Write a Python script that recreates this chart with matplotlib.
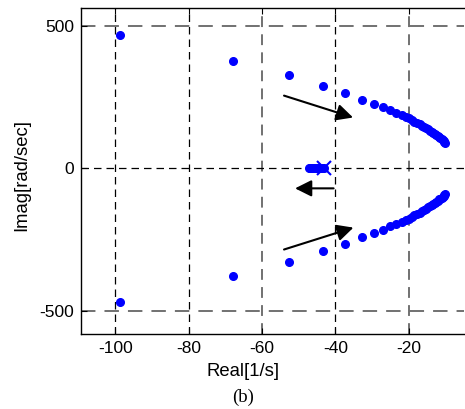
import matplotlib
matplotlib.use("Agg")
import matplotlib.pyplot as plt

plt.rcParams['axes.unicode_minus'] = False

# Upper branch of root locus (real, imag)
upper_re = [-98.6, -67.9, -52.6, -43.4, -37.3, -32.8, -29.6, -27.1, -25.1, -23.5, -21.9,
            -20.9, -20.0, -19.2, -18.5, -17.8, -17.1, -16.5, -15.9, -15.3, -14.8, -14.3,
            -13.8, -13.3, -12.9, -12.5, -12.1, -11.7, -11.4, -11.1, -10.8, -10.5, -10.3,
            -10.1]
upper_im = [470, 379, 328, 291, 266, 242, 227, 216, 204, 194, 187,
            181, 176, 170, 165, 160, 155, 150, 146, 141, 137, 133,
            129, 125, 121, 117, 113, 109, 106, 103, 99, 96, 93,
            90]
# Real-axis cluster
axis_re = [-47.2, -46.8, -46.4, -46.0, -45.6, -45.2, -44.8, -44.4, -44.0, -43.6, -43.2]
axis_im = [0] * len(axis_re)
# Open-loop pole marker
pole_re = [-43.0]
pole_im = [0]

xticks = [-100, -80, -60, -40, -20]
yticks = [-500, 0, 500]
xlim = (-109.3, -4.9)
ylim = (-582, 564)

# arrows: (start, end)
arrows = [((-54.0, 256), (-35.2, 179)),
          ((-40.5, -70), (-51.0, -70)),
          ((-54.0, -285), (-35.1, -208))]

fig = plt.figure(figsize=(4.65, 4.09), dpi=100)
ax = fig.add_axes([81/465, 1-334/409, (464.3-81)/465, (334-8)/409])

# grid lines
vcol = {-100: 'k', -80: 'k', -60: '#666666', -40: 'k', -20: '#666666'}
for xv in xticks:
    c = vcol[xv]
    if c == 'k':
        ax.axvline(xv, color='k', lw=0.9, ls=(0, (6, 4)), zorder=1)
    else:
        ax.axvline(xv, color=c, lw=1.3, ls=(0, (6, 4)), zorder=1)
for yv in yticks:
    if yv == 0:
        ax.axhline(yv, color='k', lw=0.9, ls=(0, (6, 4)), zorder=1)
    else:
        ax.axhline(yv, color='#666666', lw=1.3, ls=(0, (8, 5)), zorder=1)

ax.plot(upper_re, upper_im, 'o', color='#0000ff', ms=5.5, mec='#0000ff', zorder=3)
ax.plot(upper_re, [-v for v in upper_im], 'o', color='#0000ff', ms=5.5, mec='#0000ff', zorder=3)
ax.plot(axis_re, axis_im, 'o', color='#0000ff', ms=5.5, mec='#0000ff', zorder=3)
ax.plot(pole_re, pole_im, 'x', color='#0000ff', ms=10, mew=1.5, zorder=3)

for (s, e) in arrows:
    ax.annotate('', xy=e, xytext=s,
                arrowprops=dict(arrowstyle='-|>,head_length=1.0,head_width=0.5',
                                color='k', lw=1.5, shrinkA=0, shrinkB=0),
                zorder=4)

ax.set_xlim(*xlim)
ax.set_ylim(*ylim)
ax.set_xticks(xticks)
ax.set_yticks(yticks)
ax.tick_params(direction='in', top=True, length=4, labelsize=12.5, pad=5)
for lab in ax.get_xticklabels() + ax.get_yticklabels():
    lab.set_fontfamily('Liberation Sans')
ax.spines['right'].set_visible(False)
for sp in ['left', 'bottom', 'top']:
    ax.spines[sp].set_linewidth(1.0)

ax.set_xlabel('Real[1/s]', fontsize=13.3, family='Liberation Sans')
ax.set_ylabel('Imag[rad/sec]', fontsize=13.3, family='Liberation Sans')
ax.xaxis.set_label_coords((243.5-81)/(464.3-81), 1-(371-8)/(334-8))
ax.xaxis.label.set_va('center')
ax.yaxis.set_label_coords((22-81)/(464.3-81), 1-(175-8)/(334-8))
ax.yaxis.label.set_va('center')
fig.text(243/465, 1-397/409, '(b)', fontsize=13.5, family='Liberation Serif',
         ha='center', va='center')

fig.savefig('out.png', dpi=100)
